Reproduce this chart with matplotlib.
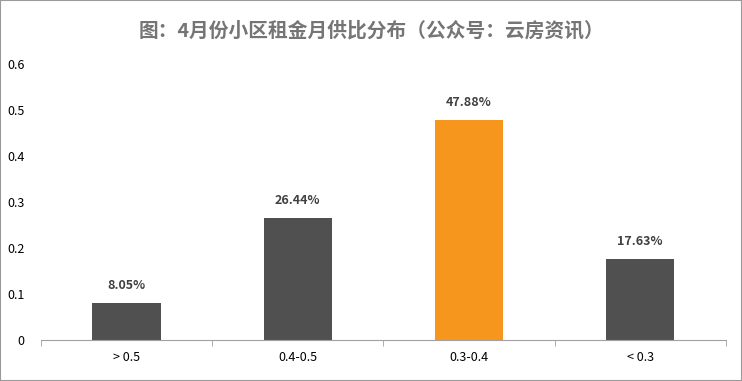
import matplotlib.pyplot as plt
from matplotlib.patches import Rectangle

plt.rcParams['font.family'] = ['Noto Sans CJK SC', 'DejaVu Sans']

categories = ['> 0.5', '0.4-0.5', '0.3-0.4', '< 0.3']
values = [0.0805, 0.2644, 0.4788, 0.1763]
colors = ['#505050', '#505050', '#f7961d', '#505050']

fig = plt.figure(figsize=(7.42, 3.81), dpi=100)
ax = fig.add_axes([0.0553, 0.1076, 0.9227, 0.7244])

xs = range(len(categories))
ax.bar(xs, values, width=0.4, color=colors)

for x, v in zip(xs, values):
    ax.annotate('{:.2f}%'.format(v * 100), (x, v), textcoords='offset points',
                xytext=(0, 8), ha='center', va='bottom', fontsize=9,
                fontweight='bold', color='#404040')

ax.set_xlim(-0.5, len(categories) - 0.5)
ax.set_ylim(0, 0.6)
ax.set_yticks([0, 0.1, 0.2, 0.3, 0.4, 0.5, 0.6])
ax.set_yticklabels(['0', '0.1', '0.2', '0.3', '0.4', '0.5', '0.6'], fontsize=9)
ax.tick_params(axis='y', length=0, pad=12)

ax.set_xticks(list(xs))
ax.set_xticklabels(categories, fontsize=9)
ax.tick_params(axis='x', length=0, pad=8)
# small ticks at category boundaries
ax.set_xticks([i - 0.5 for i in range(len(categories) + 1)], minor=True)
ax.tick_params(axis='x', which='minor', length=4, color='#a0a0a0')

for s in ['top', 'right', 'left']:
    ax.spines[s].set_visible(False)
ax.spines['bottom'].set_color('#a0a0a0')

fig.text(0.5, 0.92, '图：4月份小区租金月供比分布（公众号：云房资讯）', ha='center',
         va='center', fontsize=14.2, fontweight='bold', color='#757575')

fig.patches.append(Rectangle((0, 0), 1, 1, transform=fig.transFigure,
                             fill=False, edgecolor='#9a9a9a', linewidth=1.5))

fig.savefig('out.png', dpi=100)
